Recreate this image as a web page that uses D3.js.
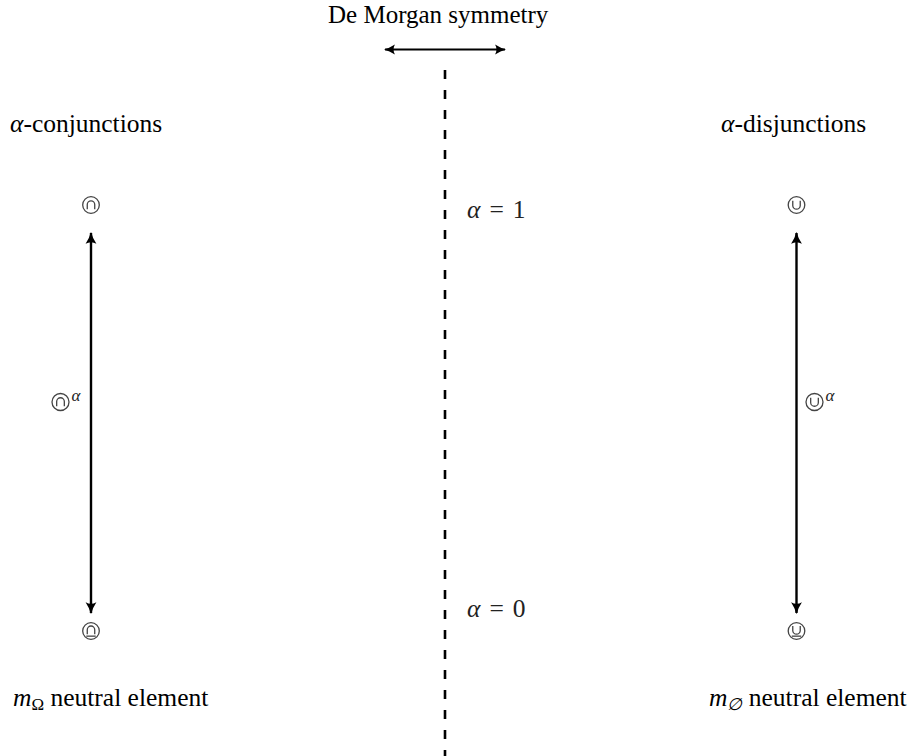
<!DOCTYPE html>
<html><head><meta charset="utf-8">
<script src="https://cdn.jsdelivr.net/npm/d3@7/dist/d3.min.js"></script>
<style>body{margin:0;background:#fff}svg{display:block}</style>
</head><body><div id="chart"></div>
<script>
// ---- data ----
const alphaLevels = [1, 0];                       // ends of each α-family
const families = ["conjunctions", "disjunctions"]; // left / right
const familyOps = ["cap", "cup"];
const familyNeutral = ["Ω", "∅"];
const titleText = "De Morgan symmetry";
const neutralText = " neutral element";

const FONT = "'Liberation Serif', 'DejaVu Serif', serif";
const FS = 25.5;
const W = 922, H = 756;
const svg = d3.select("#chart").append("svg").attr("width", W).attr("height", H)
  .attr("font-family", FONT);

// scales
const x = d3.scaleOrdinal().domain(families).range([91, 796.5]);
const xLabel = d3.scaleOrdinal().domain(families).range([10, 721]);
const xNeutral = d3.scaleOrdinal().domain(families).range([13, 709]);
const y = d3.scaleLinear().domain([0, 1]).range([631, 205]);
const yArrow = d3.scaleLinear().domain([0, 1]).range([613, 233]);
const yAlphaLbl = d3.scaleLinear().domain([0, 1]).range([617, 218]);
const xMid = 445;

const defs = svg.append("defs");
function marker(id, orient) {
  defs.append("marker").attr("id", id).attr("viewBox", "0 0 10 10")
    .attr("refX", 9).attr("refY", 5).attr("markerWidth", 5).attr("markerHeight", 5)
    .attr("markerUnits", "strokeWidth").attr("orient", orient)
    .append("path").attr("d", "M0,0.5 Q5,3.8 10,5 Q5,6.2 0,9.5 Q2.5,5 0,0.5 Z").attr("fill", "#000");
}
marker("ah", "auto");
marker("ahs", "auto-start-reverse");

// title + horizontal symmetry arrow
svg.append("text").attr("x", 328).attr("y", 23)
  .attr("font-size", 25).attr("font-family", FONT).attr("fill", "#000").text(titleText);
svg.append("line").attr("x1", 385).attr("x2", 505).attr("y1", 49.5).attr("y2", 49.5)
  .attr("stroke", "#000").attr("stroke-width", 2.2)
  .attr("marker-start", "url(#ahs)").attr("marker-end", "url(#ah)");

// dashed symmetry axis
svg.append("line").attr("x1", xMid).attr("x2", xMid).attr("y1", 70).attr("y2", H)
  .attr("stroke", "#000").attr("stroke-width", 2.6).attr("stroke-dasharray", "9,11");

// α labels on the axis
alphaLevels.forEach(a => {
  const t = svg.append("text").attr("x", 467).attr("y", yAlphaLbl(a)).attr("font-size", FS)
    .attr("font-family", FONT).attr("fill", "#222");
  t.append("tspan").attr("font-style", "italic").text("α");
  t.append("tspan").attr("dx", 9).text("=");
  t.append("tspan").attr("dx", 9).text(String(a));
});

// op symbol drawing
function opSymbol(g, cx, cy, op, r, under) {
  g.append("circle").attr("cx", cx).attr("cy", cy).attr("r", r)
    .attr("fill", "none").attr("stroke", "#444").attr("stroke-width", 1.3);
  const hw = r * 0.45, top = under ? cy - r * 0.6 : cy - r * 0.5, bot = under ? cy + r * 0.38 : cy + r * 0.5;
  let d;
  if (op === "cap") d = `M${cx - hw},${bot} V${top + hw} A${hw},${hw} 0 0 1 ${cx + hw},${top + hw} V${bot}`;
  else d = `M${cx - hw},${top} V${bot - hw} A${hw},${hw} 0 0 0 ${cx + hw},${bot - hw} V${top}`;
  g.append("path").attr("d", d).attr("fill", "none").attr("stroke", "#444").attr("stroke-width", 1.3);
  if (under) g.append("line").attr("x1", cx - hw - 1).attr("x2", cx + hw + 1)
    .attr("y1", bot + 2).attr("y2", bot + 2).attr("stroke", "#444").attr("stroke-width", 1.3);
}

families.forEach((f, i) => {
  const g = svg.append("g");
  // family title
  const t = g.append("text").attr("x", xLabel(f)).attr("y", 132).attr("font-size", FS)
    .attr("font-family", FONT).attr("fill", "#000");
  t.append("tspan").attr("font-style", "italic").text("α");
  t.append("tspan").text("-" + f);
  // vertical arrow
  g.append("line").attr("x1", x(f)).attr("x2", x(f)).attr("y1", yArrow(1)).attr("y2", yArrow(0))
    .attr("stroke", "#000").attr("stroke-width", 2.4)
    .attr("marker-start", "url(#ahs)").attr("marker-end", "url(#ah)");
  // end symbols
  opSymbol(g, x(f), y(1), familyOps[i], 8.3, false);
  opSymbol(g, x(f), y(0), familyOps[i], 8.3, true);
  // middle α-symbol
  const mx = x(f) + (i === 0 ? -30.5 : 18), my = y(0.5) - 16;
  opSymbol(g, mx, my, familyOps[i], 8.5, false);
  g.append("text").attr("x", mx + 11).attr("y", my - 1).attr("font-size", 17)
    .attr("font-family", FONT).attr("font-style", "italic").attr("fill", "#222").text("α");
  // neutral element label
  const n = g.append("text").attr("x", xNeutral(f)).attr("y", 706).attr("font-size", FS)
    .attr("font-family", FONT).attr("fill", "#000");
  n.append("tspan").attr("font-style", "italic").text("m");
  n.append("tspan").attr("font-size", 17).attr("dy", 4).attr("font-style", i === 1 ? "italic" : "normal").text(familyNeutral[i]);
  n.append("tspan").attr("dy", -4).text(neutralText);
});
</script></body></html>
